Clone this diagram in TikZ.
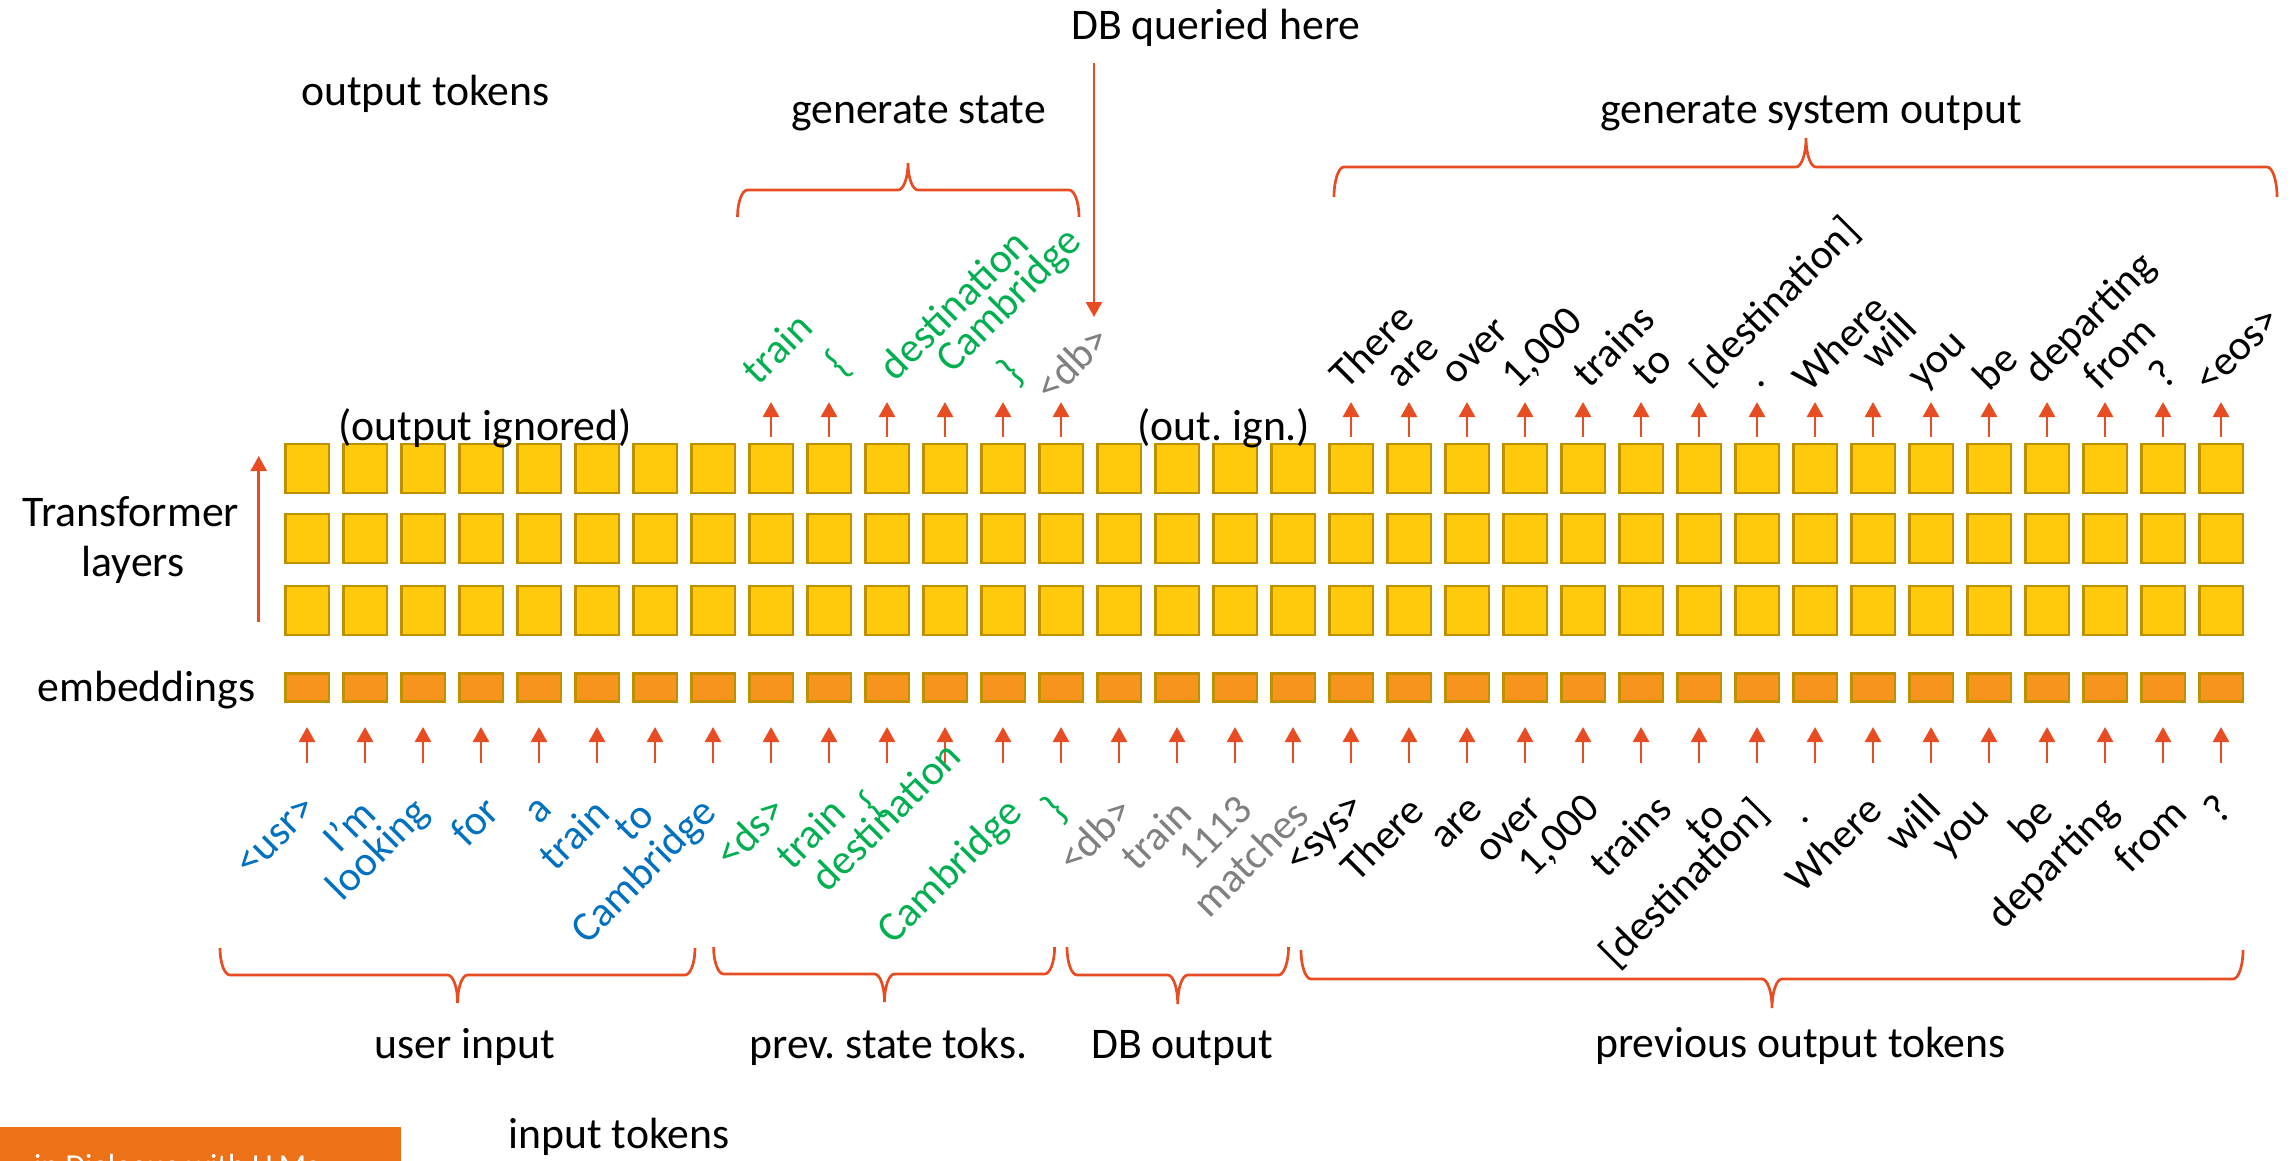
\documentclass[tikz,border=0pt]{standalone}
\usepackage{fontspec}
\setmainfont{Carlito}
\frenchspacing
\usetikzlibrary{arrows.meta}
\definecolor{arrred}{HTML}{E84C22}
\definecolor{boxfill}{HTML}{FFC90C}
\definecolor{boxdraw}{HTML}{BF9000}
\definecolor{embfill}{HTML}{F7941E}
\definecolor{tokblue}{HTML}{0070C0}
\definecolor{tokgreen}{HTML}{00B050}
\definecolor{tokgray}{HTML}{808080}
\definecolor{footer}{HTML}{EC7117}
\tikzset{
  lay/.style={draw=boxdraw, fill=boxfill, line width=2.5pt, minimum width=43.5pt, minimum height=49pt, inner sep=0pt},
  emb/.style={lay, fill=embfill, minimum height=28pt},
  arr/.style={draw=arrred, line width=2.7pt, -{Triangle[length=15pt,width=16pt]}},
  bracestyle/.style={draw=arrred, line width=2.7pt},
  lab/.style={inner sep=0pt, anchor=base, font=\fontsize{43.7}{52}\selectfont},
  tok/.style={rotate=45, inner sep=0pt, font=\fontsize{42}{50}\selectfont},
  tb/.style={tok, text=tokblue},
  tg/.style={tok, text=tokgreen},
  tr/.style={tok, text=tokgray},
  tk/.style={tok, text=black}
}
\newcommand\mybrace[6]{%
  \draw[bracestyle] (#1,#4) .. controls +(0,{-0.552*(#4-#5)}) and +(-5.5,0) .. ({#1+10},#5)
    -- ({#3-10},#5) .. controls +(5.5,0) and +(0,{0.552*(#5-#6)}) .. (#3,#6)
    .. controls +(0,{0.552*(#5-#6)}) and +(-5.5,0) .. ({#3+10},#5)
    -- ({#2-10},#5) .. controls +(5.5,0) and +(0,{-0.552*(#4-#5)}) .. (#2,#4);}
\begin{document}
\begin{tikzpicture}[x=1pt,y=-1pt]
\useasboundingbox (0,0) rectangle (2293,1161);
% layers and embeddings
\foreach \k in {1,...,34}{
  \pgfmathsetmacro\xx{307+58*(\k-1)}
  \node[lay] (L1-\k) at (\xx,468.5) {};
  \node[lay] (L2-\k) at (\xx,538.5) {};
  \node[lay] (L3-\k) at (\xx,610.5) {};
  \node[emb] (E-\k) at (\xx,687.5) {};
  \coordinate (ib-\k) at (\xx,763);
  \coordinate (it-\k) at (\xx,727);
  \draw[arr] (ib-\k) -- (it-\k);
}
\foreach \k in {9,...,14}{
  \pgfmathsetmacro\xx{307+58*(\k-1)}
  \coordinate (ob-\k) at (\xx,437);
  \coordinate (ot-\k) at (\xx,402);
  \draw[arr] (ob-\k) -- (ot-\k);
}
\foreach \k in {19,...,34}{
  \pgfmathsetmacro\xx{307+58*(\k-1)}
  \coordinate (ob-\k) at (\xx,437);
  \coordinate (ot-\k) at (\xx,402);
  \draw[arr] (ob-\k) -- (ot-\k);
}
% transformer arrow
\coordinate (ta0) at (258.7,621.7);
\coordinate (ta1) at (258.7,456);
\draw[arr] (ta0) -- (ta1);
% labels
\node[lab] (outtok) at (425.5,106) {output tokens};
\node[lab] (dbq) at (1216,40) {DB queried here};
\node[lab] (genst) at (918.5,123.3) {generate state};
\node[lab] (gensys) at (1811,123.3) {generate system output};
\node[lab] (oign) at (485,440) {(output ignored)};
\node[lab] (oign2) at (1224,440) {(out. ign.)};
\node[lab] (tl1) at (131,526.7) {Transformer};
\node[lab] (tl2) at (133,576.7) {layers};
\node[lab] (embl) at (146.4,701.7) {embeddings};
\node[lab] (uin) at (464.6,1058) {user input};
\node[lab] (pst) at (888.5,1058) {prev. state toks.};
\node[lab] (dbo) at (1182,1058) {DB output};
\node[lab] (pot) at (1800.5,1057) {previous output tokens};
\node[lab] (intok) at (619,1148) {input tokens};
% DB arrow
\coordinate (dbs) at (1094,63);
\coordinate (dbt) at (1094,317);
\draw[arr] (dbs) -- (dbt);
% braces
\mybrace{737.5}{1079}{908}{217}{190}{163}
\mybrace{1334}{2277}{1806}{197}{167}{138}
\mybrace{220}{695}{457.6}{948}{975}{1003}
\mybrace{713.6}{1054.6}{884.5}{947}{974}{1002}
\mybrace{1067}{1288.5}{1177.7}{947}{975}{1004}
\mybrace{1301}{2243}{1772}{950}{979}{1008}
% input tokens
\node[tb] (in-1) at (276.7,836.7) {<usr>};
\node[tb] (in-2) at (348.3,825.3) {I’m};
\node[tb] (in-3) at (379.2,850.7) {looking};
\node[tb] (in-4) at (474.2,821) {for};
\node[tb] (in-5) at (539.2,811.3) {a};
\node[tb] (in-6) at (573.7,833.8) {train};
\node[tb] (in-7) at (633.8,821.2) {to};
\node[tb] (in-8) at (645,872.2) {Cambridge};
\node[tg] (in-9) at (749.7,831.2) {<ds>};
\node[tg] (in-10) at (810.3,833.3) {train};
\node[tg] (in-11) at (872.5,805) {\{};
\node[tg] (in-12) at (885.5,816) {destination};
\node[tg] (in-13) at (950.8,872.5) {Cambridge};
\node[tg] (in-14) at (1055,810) {\}};
\node[tr] (in-15) at (1094.2,834.2) {<db>};
\node[tr] (in-16) at (1155.8,834.5) {train};
\node[tr] (in-17) at (1215,833.3) {1113};
\node[tr] (in-18) at (1250,858.3) {matches};
\node[tk] (in-19) at (1328.3,836.5) {<sys>};
\node[tk] (in-20) at (1381.7,838.3) {There};
\node[tk] (in-21) at (1457.5,824.2) {are};
\node[tk] (in-22) at (1510,830.8) {over};
\node[tk] (in-23) at (1560,836.7) {1,000};
\node[tk] (in-24) at (1630,835.8) {trains};
\node[tk] (in-25) at (1705,821.7) {to};
\node[tk] (in-26) at (1685,884) {[destination]};
\node[tk] (in-27) at (1806,820) {.};
\node[tk] (in-28) at (1833,843.3) {Where};
\node[tk] (in-29) at (1911.7,822.5) {will};
\node[tk] (in-30) at (1964.5,831.7) {you};
\node[tk] (in-31) at (2030,820) {be};
\node[tk] (in-32) at (2054,864) {departing};
\node[tk] (in-33) at (2150,835) {from};
\node[tk] (in-34) at (2217.5,809) {?};
% output tokens
\node[tg] (out-9) at (777,347.8) {train};
\node[tg] (out-10) at (838.7,364.2) {\{};
\node[tg] (out-11) at (953.3,304.2) {destination};
\node[tg] (out-12) at (1010,301.7) {Cambridge};
\node[tg] (out-13) at (1011.7,373.3) {\}};
\node[tr] (out-14) at (1071.7,362.5) {<db>};
\node[tk] (out-19) at (1371.2,345.8) {There};
\node[tk] (out-20) at (1414.3,363.3) {are};
\node[tk] (out-21) at (1476.7,352.5) {over};
\node[tk] (out-22) at (1543.3,349.2) {1,000};
\node[tk] (out-23) at (1613.2,345.8) {trains};
\node[tk] (out-24) at (1652,366.7) {to};
\node[tk] (out-25) at (1776,301.7) {[destination]};
\node[tk] (out-26) at (1762,384) {.};
\node[tk] (out-27) at (1839.7,342.5) {Where};
\node[tk] (out-28) at (1887.8,340.8) {will};
\node[tk] (out-29) at (1940.6,363.3) {you};
\node[tk] (out-30) at (1994.9,366.7) {be};
\node[tk] (out-31) at (2091,319.2) {departing};
\node[tk] (out-32) at (2119,352.5) {from};
\node[tk] (out-33) at (2162.3,373.3) {?};
\node[tk] (out-34) at (2238.4,350.8) {<eos>};
% footer (cut off at the bottom edge)
\begin{scope}
\clip (0,0) rectangle (2293,1161);
\fill[footer] (0,1127) rectangle (401,1190);
\node[anchor=base west, inner sep=0pt, text=white, font=\fontsize{32}{38}\selectfont] (foot) at (34,1176) {in Dialogue with LLMs};
\end{scope}
\end{tikzpicture}
\end{document}
